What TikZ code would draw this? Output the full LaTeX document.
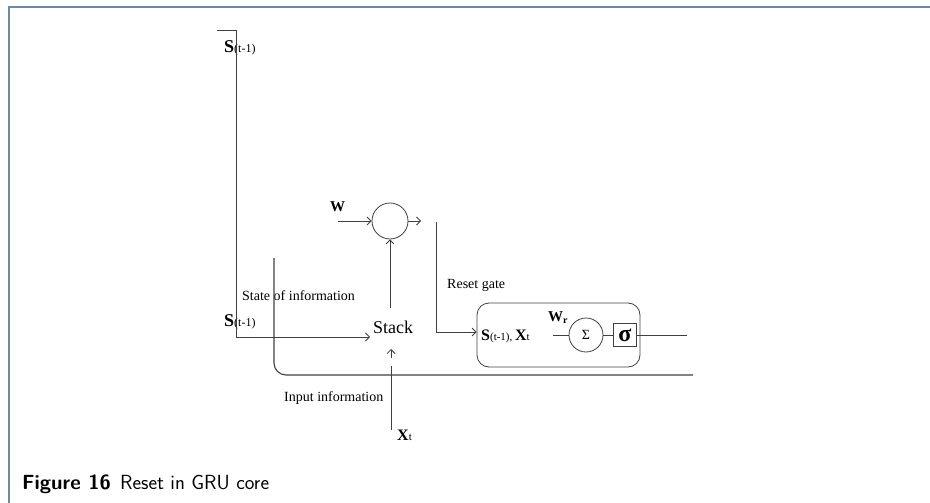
\documentclass[tikz,border=0pt]{standalone}
\usepackage{fontspec}
\setmainfont{Liberation Serif}
\usetikzlibrary{arrows.meta}
\definecolor{framec}{RGB}{112,136,162}
\begin{document}
\begin{tikzpicture}[x=1pt,y=-1pt,
  ln/.style={draw=black!75, line width=0.8pt},
  arr/.style={ln, -{Straight Barb[length=4pt,width=8pt,line width=0.8pt]}},
  lbl/.style={inner sep=0, anchor=base west, font=\fontsize{14}{14}\selectfont},
  big/.style={font=\fontsize{18}{18}\selectfont},
]
\useasboundingbox (0,0) rectangle (930,503);
\draw[framec, line width=2pt] (9,503) -- (9,7) -- (930,7);

% labels
\node[lbl] (s1) at (224,53) {\fontsize{18}{18}\selectfont\textbf{S}\fontsize{12}{12}\selectfont(t-1)};
\node[lbl] (s2) at (224,326) {\fontsize{18}{18}\selectfont\textbf{S}\fontsize{12}{12}\selectfont(t-1)};
\node[lbl] (soi) at (242,300) {State of information};
\node[lbl] (rg) at (447,288) {Reset gate};
\node[lbl] (ii) at (284,401) {Input information};
\node[lbl, big, inner sep=0] (stack) at (373,333) {Stack};
\node[lbl] (w) at (330,211) {\fontsize{15}{15}\selectfont\textbf{W}};
\node[lbl] (xt) at (397,440) {\fontsize{16}{16}\selectfont\textbf{X}\fontsize{11}{11}\selectfont t};

% S(t-1) path to Stack
\coordinate (tl) at (217,30);
\coordinate (tc) at (236,30);
\coordinate (bl) at (236,337);
\coordinate (stk) at (370,337);
\draw[arr] (tl) -- (tc) -- (bl) -- (stk);

% circle
\node[circle, ln, minimum size=36pt, inner sep=0] (c) at (390,221) {};
\coordinate (w0) at (338,221);
\draw[arr] (w0) -- (c.west);
\coordinate (sl) at (390,308);
\draw[arr] (sl) -- (c.south);
\coordinate (ce) at (421,221);
\draw[arr] (c.east) -- (ce);

% reset gate box
\node[ln, rounded corners=12pt, minimum width=163pt, minimum height=64pt, inner sep=0] (box) at (558.5,335) {};
\coordinate (r0) at (436,222);
\coordinate (r1) at (436,332);
\draw[arr] (r0) -- (r1) -- (r1 -| box.west);

\node[lbl] (sx) at (481,340) {\fontsize{16}{16}\selectfont\textbf{S}\fontsize{11}{11}\selectfont(t-1), \fontsize{16}{16}\selectfont\textbf{X}\fontsize{11}{11}\selectfont t};
\node[lbl] (wr) at (548,321) {\fontsize{15}{15}\selectfont\textbf{W}\fontsize{10}{10}\selectfont\raisebox{-2pt}{\textbf{r}}};
\node[circle, ln, minimum size=34pt, inner sep=0] (sig) at (586,335) {\fontsize{14}{14}\selectfont Σ};
\coordinate (li) at (553,335);
\draw[ln] (li) -- (sig.west);
\node[ln, line width=1pt, minimum size=23pt, inner sep=0] (sq) at (625,335) {\fontsize{24}{24}\selectfont\textbf{σ}};
\draw[ln] (sig.east) -- (sq.west);
\coordinate (out) at (687,335);
\draw[ln] (sq.east) -- (out);

% input line with rounded corner
\coordinate (a0) at (274,258);
\coordinate (a1) at (274,375);
\coordinate (a2) at (693,375);
\draw[ln, line width=1.1pt, rounded corners=12pt] (a0) -- (a1) -- (a2);

% Xt input
\coordinate (x0) at (391,430);
\coordinate (x1) at (391,366);
\draw[ln] (x0) -- (x1);
\coordinate (x2) at (391,358);
\coordinate (x3) at (391,349);
\draw[arr] (x2) -- (x3);

% caption
\node[anchor=base west, inner sep=0, font=\sffamily\fontsize{20.5}{20.5}\selectfont] (cap) at (22,489) {\textbf{Figure 16}\hspace{0.45em}Reset in GRU core};
\end{tikzpicture}
\end{document}
